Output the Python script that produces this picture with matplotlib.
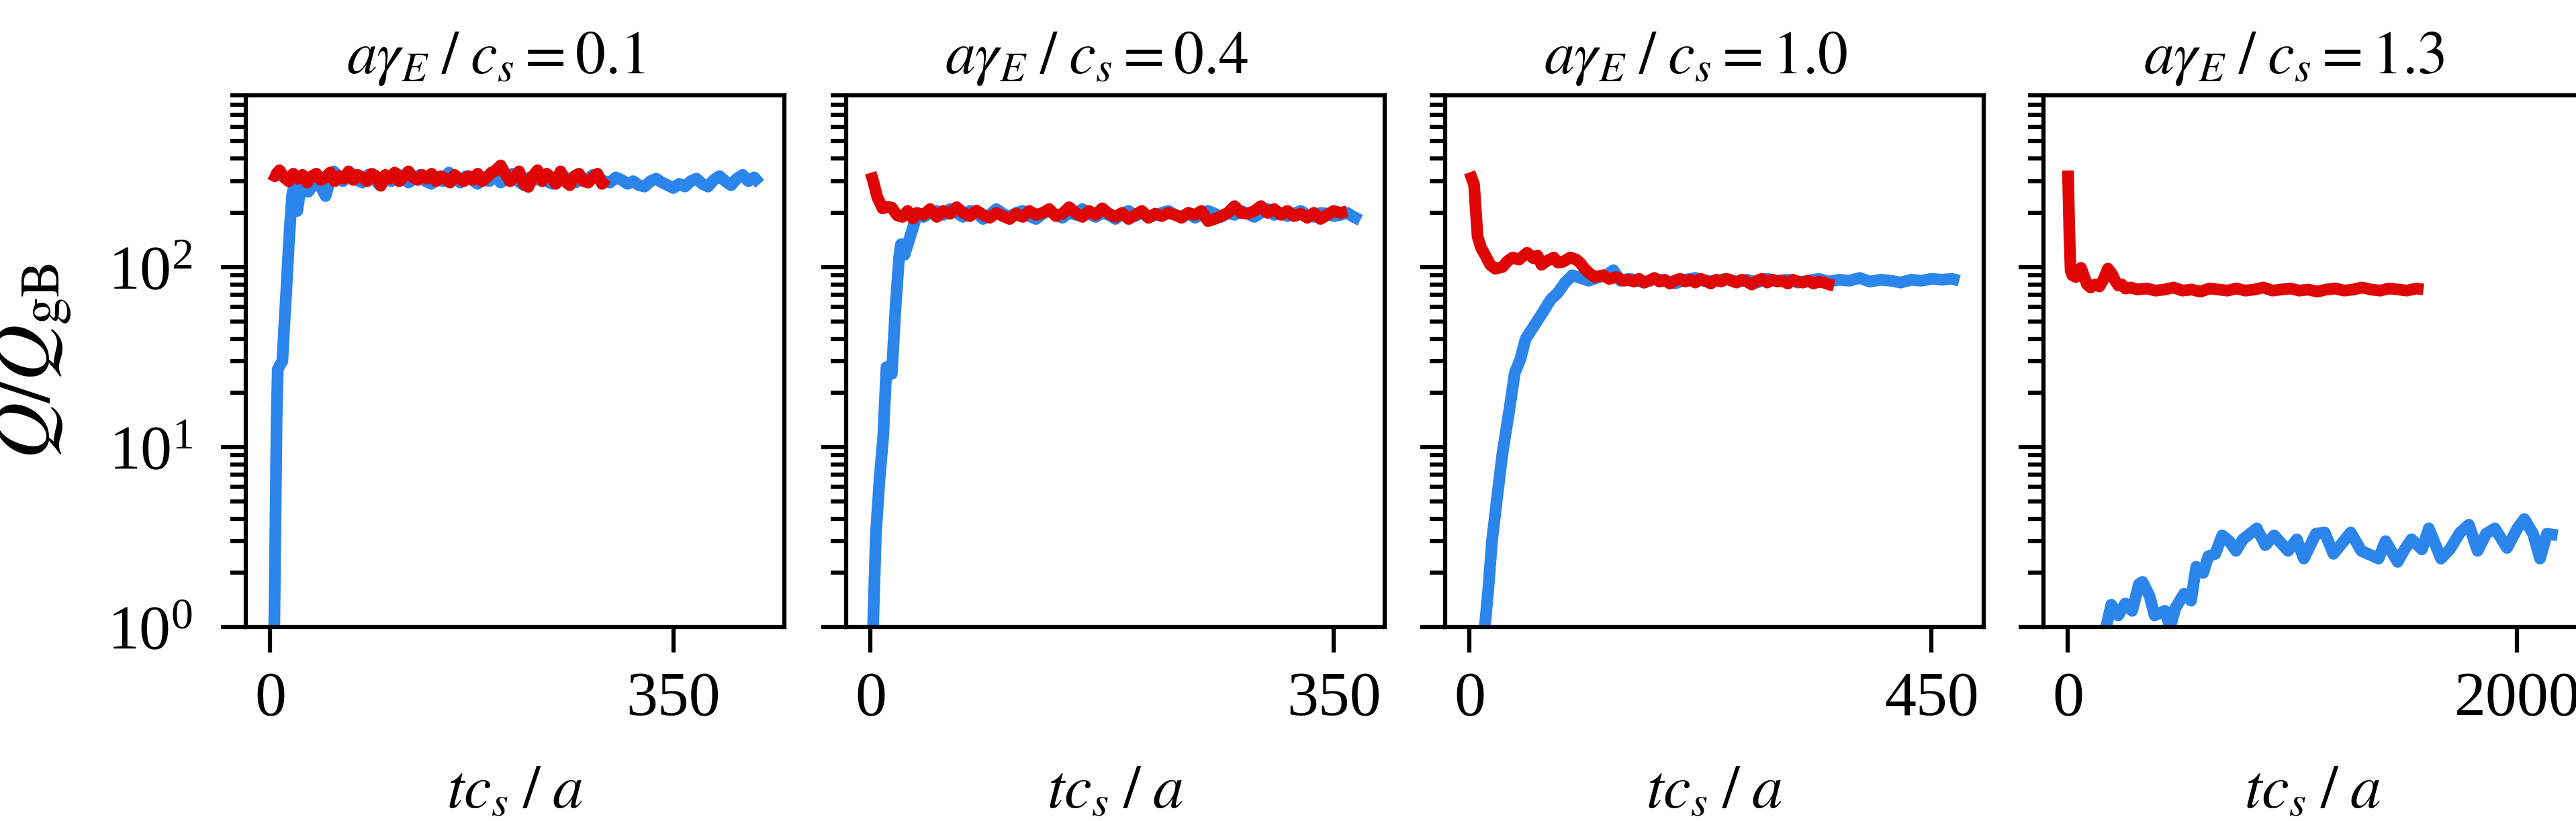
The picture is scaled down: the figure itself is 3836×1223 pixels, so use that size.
import matplotlib
matplotlib.use("Agg")
import matplotlib.pyplot as plt
import matplotlib.ticker as tkr

plt.rcParams['font.family'] = 'serif'
plt.rcParams['font.serif'] = ['Liberation Serif', 'DejaVu Serif']
plt.rcParams['mathtext.fontset'] = 'stix'

BLUE = "#2b85ea"
RED = "#e00505"

# ---- a*gamma_E/c_s = 0.1 ----
t1_blue = [0, 2, 3.5, 5.5, 6.5, 9, 10.5, 12, 14, 16,
           17.5, 19, 20.5, 22, 23.5, 25, 27, 30, 33, 37,
           41, 45, 48, 51, 55, 59, 63, 67, 71, 75,
           80, 85, 90, 95, 100, 105, 110, 115, 120, 125,
           130, 135, 140, 145, 150, 155, 160, 165, 170, 175,
           180, 185, 190, 195, 200, 205, 210, 215, 220, 225,
           230, 235, 240, 245, 250, 255, 260, 265, 270, 275,
           280, 285, 290, 295, 300, 305, 310, 315, 320, 325,
           330, 335, 340, 345, 350, 355, 360, 365, 370, 375,
           380, 385, 390, 395, 400, 405, 410, 415, 420, 425]
q1_blue = [0.2, 0.5, 1.0, 14, 27, 29, 30, 45, 75, 130,
           185, 250, 280, 230, 205, 240, 275, 270, 262, 285,
           300, 270, 248, 290, 340, 320, 300, 315, 330, 305,
           295, 325, 310, 285, 320, 300, 330, 315, 295, 310,
           325, 300, 290, 315, 300, 335, 310, 295, 320, 305,
           290, 315, 300, 320, 295, 310, 330, 300, 285, 315,
           305, 325, 300, 290, 310, 320, 300, 295, 315, 305,
           325, 310, 300, 295, 315, 305, 290, 300, 285, 280,
           300, 310, 295, 285, 275, 290, 280, 300, 310, 290,
           280, 305, 320, 300, 285, 310, 325, 300, 315, 290]
t1_red = [0, 4, 8, 12, 16, 20, 24, 28, 32, 36,
          40, 44, 48, 52, 56, 60, 64, 68, 72, 76,
          80, 84, 88, 92, 96, 100, 104, 108, 112, 116,
          120, 124, 128, 132, 136, 140, 144, 148, 152, 156,
          160, 164, 168, 172, 176, 180, 184, 188, 192, 196,
          200, 204, 208, 212, 216, 220, 224, 228, 232, 236,
          240, 244, 248, 252, 256, 260, 264, 268, 272, 276,
          280, 284, 288, 292]
q1_red = [330, 320, 345, 315, 300, 330, 310, 325, 295, 320,
          330, 305, 315, 335, 300, 320, 310, 340, 305, 325,
          315, 300, 330, 320, 283, 325, 310, 335, 300, 320,
          340, 315, 305, 325, 310, 330, 300, 320, 310, 295,
          325, 310, 300, 320, 305, 330, 300, 315, 335, 345,
          367, 330, 300, 315, 340, 290, 279, 320, 345, 300,
          330, 315, 290, 340, 300, 285, 320, 330, 300, 295,
          315, 330, 290, 310]

# ---- a*gamma_E/c_s = 0.4 ----
t2_blue = [0, 1.8, 4, 6.8, 9.5, 12, 16, 18.8, 21.5, 23,
           25.6, 29.7, 33.7, 36.5, 40, 45, 50, 55, 60, 65,
           70, 75, 80, 85, 90, 95, 100, 105, 110, 115,
           120, 125, 130, 135, 140, 145, 150, 155, 160, 165,
           170, 175, 180, 185, 190, 195, 200, 205, 210, 215,
           220, 225, 230, 235, 240, 245, 250, 255, 260, 265,
           270, 275, 280, 285, 290, 295, 300, 305, 310, 315,
           320, 325, 330, 335, 340, 345, 350, 355, 360, 365,
           370]
q2_blue = [0.5, 0.96, 3.3, 6.7, 11.4, 27.8, 25.5, 59, 113, 134,
           117, 146, 182, 196, 190, 200, 205, 195, 210, 200,
           190, 205, 200, 185, 195, 210, 198, 190, 200, 205,
           192, 185, 198, 205, 195, 188, 200, 195, 210, 198,
           190, 200, 195, 185, 198, 205, 192, 200, 188, 195,
           200, 205, 195, 190, 200, 188, 195, 205, 198, 190,
           200, 195, 205, 198, 190, 200, 210, 195, 200, 192,
           198, 205, 195, 190, 200, 198, 192, 195, 200, 190,
           182]
t2_red = [0, 2, 5, 9, 13, 16, 20, 24, 28, 32,
          35, 40, 45, 50, 55, 60, 65, 70, 75, 80,
          85, 90, 95, 100, 105, 110, 115, 120, 125, 130,
          135, 140, 145, 150, 155, 160, 165, 170, 175, 180,
          185, 190, 195, 200, 205, 210, 215, 220, 225, 230,
          235, 240, 245, 250, 255, 260, 265, 270, 275, 280,
          285, 290, 295, 300, 305, 310, 315, 320, 325, 330,
          335, 340, 345, 350, 355, 360]
q2_red = [334, 300, 245, 212, 216, 214, 194, 190, 205, 186,
          200, 195, 210, 190, 205, 198, 215, 200, 192, 206,
          195, 188, 200, 192, 185, 198, 190, 205, 195, 200,
          210, 192, 198, 215, 200, 190, 205, 195, 212, 198,
          190, 200, 185, 195, 205, 188, 198, 192, 200, 195,
          188, 200, 195, 205, 180, 185, 192, 200, 218, 200,
          198, 205, 218, 200, 210, 195, 205, 192, 198, 188,
          200, 185, 195, 205, 200, 204]

# ---- a*gamma_E/c_s = 1.0 ----
t3_blue = [0, 10, 14.8, 18.2, 21.8, 26.7, 32, 39, 44, 49.5,
           54.6, 61.6, 70.4, 79, 86, 93, 100, 108, 116, 126,
           133, 140, 147, 155, 160, 170, 180, 190, 200, 210,
           220, 230, 240, 250, 260, 270, 280, 290, 300, 310,
           320, 330, 340, 350, 360, 370, 380, 390, 400, 410,
           420, 430, 440, 450, 460, 470, 477]
q3_blue = [0.2, 0.6, 1.0, 1.62, 3.0, 5.2, 9.2, 16.5, 25.8, 30.8,
           40, 46, 55, 66, 72, 82, 90, 87, 84, 88,
           90, 96, 84, 86, 85, 82, 86, 84, 81, 85,
           87, 83, 84, 86, 83, 85, 82, 86, 84, 85,
           82, 84, 86, 83, 85, 84, 87, 83, 85, 84,
           82, 85, 84, 86, 85, 86, 84]
t3_red = [0, 4.3, 7.8, 11.2, 16.4, 20, 25, 32, 37, 42,
          48, 52, 56, 62, 66, 70, 75, 82, 86, 91,
          98, 104, 108, 112, 117, 122, 130, 136, 143, 150,
          155, 160, 165, 170, 175, 180, 185, 190, 195, 200,
          205, 210, 215, 220, 225, 230, 235, 240, 245, 250,
          255, 260, 265, 270, 275, 280, 285, 290, 295, 300,
          305, 310, 315, 320, 325, 330, 335, 340, 345, 350,
          355]
q3_red = [336, 288, 147, 128, 113, 103, 98, 100, 108, 113,
          110, 115, 120, 112, 116, 103, 108, 113, 106, 107,
          113, 110, 105, 98, 92, 88, 90, 86, 88, 84,
          85, 83, 86, 82, 84, 87, 83, 85, 81, 84,
          86, 83, 85, 82, 86, 84, 81, 85, 83, 86,
          84, 82, 85, 83, 80, 84, 86, 82, 85, 83,
          84, 81, 85, 83, 82, 84, 81, 83, 82, 80,
          79]

# ---- a*gamma_E/c_s = 1.3 ----
t4_blue = [0, 100, 170, 193, 224, 255, 286, 316, 332, 363,
           386, 432, 455, 479, 517, 548, 571, 602, 625, 656,
           687, 718, 748, 779, 841, 879, 918, 980, 1019, 1050,
           1104, 1143, 1182, 1259, 1306, 1383, 1414, 1468, 1499, 1530,
           1576, 1607, 1661, 1700, 1746, 1785, 1824, 1862, 1901, 1955,
           2001, 2032, 2071, 2102, 2133, 2180]
q4_blue = [0.3, 0.6, 1.0, 1.33, 1.16, 1.35, 1.23, 1.73, 1.78, 1.49,
           1.16, 1.23, 1.0, 1.28, 1.53, 1.40, 2.16, 2.0, 2.47, 2.55,
           3.23, 3.0, 2.65, 3.07, 3.53, 2.85, 3.23, 2.65, 3.07, 2.4,
           3.3, 3.35, 2.55, 3.35, 2.65, 2.4, 3.0, 2.3, 2.7, 3.07,
           2.7, 3.53, 2.4, 2.7, 3.35, 3.7, 2.65, 3.3, 3.53, 2.75,
           3.53, 3.98, 3.3, 2.4, 3.3, 3.23]
t4_red = [0, 6, 12, 20, 35, 48, 58, 70, 85, 101,
          120, 140, 160, 178, 195, 210, 224, 240, 255, 280,
          310, 350, 390, 430, 470, 510, 550, 590, 630, 670,
          710, 750, 790, 830, 870, 910, 950, 990, 1030, 1070,
          1110, 1150, 1190, 1230, 1270, 1310, 1350, 1390, 1430, 1470,
          1510, 1550, 1583]
q4_red = [344, 160, 95, 90, 88, 92, 99, 90, 80, 77,
          80, 78, 86, 98, 92, 84, 79, 80, 76, 77,
          75, 76, 74, 75, 77, 74, 75, 73, 76, 75,
          74, 76, 74, 75, 77, 74, 75, 76, 74, 75,
          73, 75, 76, 74, 75, 77, 75, 74, 76, 75,
          74, 76, 75]

panels = [
    ("0.1", t1_blue, q1_blue, t1_red, q1_red, [0, 350]),
    ("0.4", t2_blue, q2_blue, t2_red, q2_red, [0, 350]),
    ("1.0", t3_blue, q3_blue, t3_red, q3_red, [0, 450]),
    ("1.3", t4_blue, q4_blue, t4_red, q4_red, [0, 2000]),
]

W, H = 3837, 1223
fig = plt.figure(figsize=(W / 300, H / 300), dpi=300)

lefts = [366, 1260, 2152, 3043]
for i, (g, tb, qb, tr, qr, xt) in enumerate(panels):
    ax = fig.add_axes([lefts[i] / W, (H - 934) / H, 802 / W, 792 / H])
    ax.plot(tb, qb, color=BLUE, lw=4.2, solid_capstyle="butt", solid_joinstyle="round")
    ax.plot(tr, qr, color=RED, lw=4.2, solid_capstyle="butt", solid_joinstyle="round")
    ax.set_yscale("log")
    ax.set_ylim(1, 900)
    ax.set_xticks(xt)
    ax.yaxis.set_major_locator(tkr.LogLocator(base=10.0, numticks=10))
    ax.yaxis.set_minor_locator(tkr.LogLocator(base=10.0, subs=range(2, 10), numticks=10))
    ax.yaxis.set_minor_formatter(tkr.NullFormatter())
    ax.tick_params(which="major", length=9, width=1.5, labelsize=22.5)
    ax.tick_params(axis="x", pad=7)
    ax.tick_params(axis="y", pad=10)
    ax.tick_params(which="minor", length=5.5, width=1.5)
    for s in ax.spines.values():
        s.set_linewidth(1.5)
    if i > 0:
        ax.set_yticklabels([])
    else:
        ax.set_ylabel(r"$Q/Q_{\rm gB}$", fontsize=28, labelpad=12)
    ax.set_title(r"$a\gamma_E\;/\;c_s = %s$" % g, fontsize=21.5, pad=8, x=0.465)
    ax.set_xlabel(r"$tc_s\;/\;a$", fontsize=22, labelpad=13)

fig.savefig("out.png", dpi=300)
